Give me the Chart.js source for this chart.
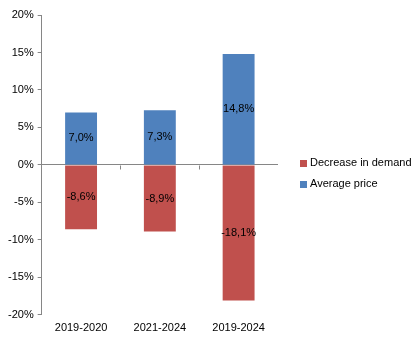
<!DOCTYPE html>
<html>
<head>
<meta charset="utf-8">
<script src="https://cdn.jsdelivr.net/npm/chart.js@4"></script>
<style>
  html, body { margin: 0; padding: 0; background: #fff; }
  #wrap { width: 416px; height: 346px; }
</style>
</head>
<body>
<div id="wrap"><canvas id="c" width="416" height="346"></canvas></div>
<script>
const categories = ['2019-2020', '2021-2024', '2019-2024'];
const demandDecrease = [-8.6, -8.9, -18.1];
const averagePrice = [7.0, 7.3, 14.8];
const yTicks = { min: -20, max: 20, step: 5 };

const fontFamily = '"Liberation Sans", Arial, sans-serif';
const axisGray = '#868686';

const fmt = v => v.toFixed(1).replace('.', ',') + '%';

// Values written at the middle of each bar segment
const barLabels = {
  id: 'barLabels',
  afterDatasetsDraw(chart) {
    const ctx = chart.ctx;
    ctx.save();
    ctx.font = '11px ' + fontFamily;
    ctx.fillStyle = '#000';
    ctx.textAlign = 'center';
    ctx.textBaseline = 'middle';
    chart.data.datasets.forEach((ds, di) => {
      chart.getDatasetMeta(di).data.forEach((bar, i) => {
        const { x, y, base } = bar.getProps(['x', 'y', 'base'], true);
        ctx.fillText(fmt(ds.data[i]), x, (y + base) / 2);
      });
    });
    ctx.restore();
  }
};

// Small category-boundary ticks hanging below the zero line
const zeroTicks = {
  id: 'zeroTicks',
  afterDraw(chart) {
    const { ctx, chartArea } = chart;
    const y0 = Math.round(chart.scales.y.getPixelForValue(0)) + 0.5;
    const n = categories.length;
    const w = (chartArea.right - chartArea.left) / n;
    ctx.save();
    ctx.strokeStyle = axisGray;
    ctx.lineWidth = 1;
    ctx.beginPath();
    for (let i = 1; i < n; i++) {
      const x = Math.round(chartArea.left + i * w) + 0.5;
      ctx.moveTo(x, y0);
      ctx.lineTo(x, y0 + 4);
    }
    ctx.stroke();
    ctx.restore();
  }
};

// Legend to the right of the plot, centred on the canvas height
const sideLegend = {
  id: 'sideLegend',
  afterDraw(chart) {
    const { ctx, chartArea } = chart;
    const items = chart.data.datasets;
    const rowGap = 21;
    const x = chartArea.right + 22;
    const y = chart.height / 2 - (items.length - 1) * rowGap / 2;
    ctx.save();
    ctx.font = '11px ' + fontFamily;
    ctx.textBaseline = 'middle';
    ctx.textAlign = 'left';
    items.forEach((ds, i) => {
      const cy = y + i * rowGap;
      ctx.fillStyle = ds.backgroundColor;
      ctx.fillRect(x, Math.round(cy) - 3, 7, 7);
      ctx.fillStyle = '#000';
      ctx.fillText(ds.label, x + 10, cy + 0.5);
    });
    ctx.restore();
  }
};

new Chart(document.getElementById('c'), {
  type: 'bar',
  data: {
    labels: categories,
    datasets: [
      { label: 'Decrease in demand', data: demandDecrease, backgroundColor: '#C0504D' },
      { label: 'Average price', data: averagePrice, backgroundColor: '#4F81BD' }
    ]
  },
  options: {
    responsive: false,
    animation: false,
    devicePixelRatio: 1,
    layout: { padding: { top: 15, left: 4, right: 138, bottom: 4 } },
    datasets: { bar: { categoryPercentage: 1, barPercentage: 0.405 } },
    scales: {
      x: {
        stacked: true,
        grid: { display: false, drawTicks: false },
        border: { display: false },
        ticks: { color: '#000', font: { family: fontFamily, size: 11 }, padding: 7 }
      },
      y: {
        stacked: true,
        min: yTicks.min,
        max: yTicks.max,
        ticks: {
          stepSize: yTicks.step,
          color: '#000',
          font: { family: fontFamily, size: 11 },
          padding: 4,
          callback: v => v + '%'
        },
        grid: {
          color: c => (c.tick && c.tick.value === 0) ? axisGray : 'rgba(0,0,0,0)',
          tickColor: axisGray,
          tickLength: 4
        },
        border: { display: true, color: axisGray }
      }
    },
    plugins: {
      legend: { display: false },
      tooltip: { enabled: false }
    }
  },
  plugins: [barLabels, zeroTicks, sideLegend]
});
</script>
</body>
</html>
